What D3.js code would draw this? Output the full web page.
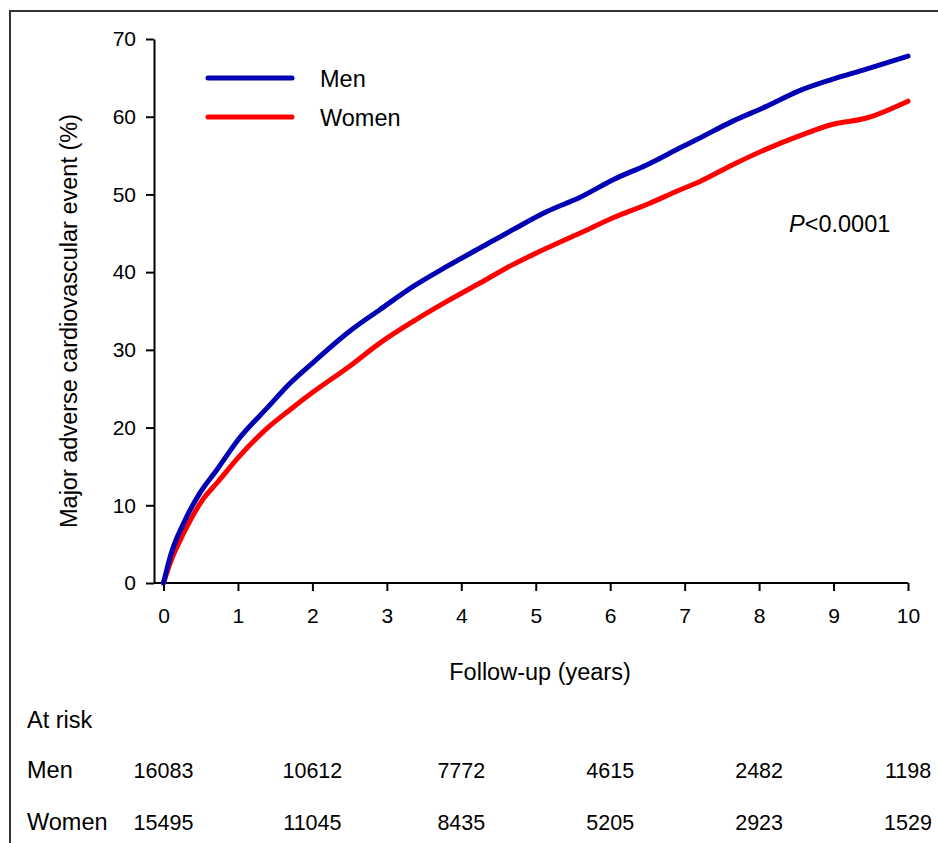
<!DOCTYPE html>
<html>
<head>
<meta charset="utf-8">
<script src="https://cdn.jsdelivr.net/npm/d3@7"></script>
<style>
  body { margin: 0; background: #fff; }
  svg { display: block; font-family: Arial, "Liberation Sans", sans-serif; }
</style>
</head>
<body>
<svg id="chart"></svg>
<script>
// cumulative incidence (years, %)
var menTime   = [0, 0.09, 0.27, 0.49, 0.72, 1.0, 1.39, 1.70, 2.0, 2.5, 2.91, 3.36, 3.80, 4.25, 4.70, 5.15, 5.59, 6.04, 6.49, 6.94, 7.19, 7.64, 8.09, 8.53, 8.98, 9.43, 10.0];
var menRisk   = [0, 3.4, 7.7, 11.6, 14.6, 18.4, 22.5, 25.7, 28.3, 32.4, 35.2, 38.2, 40.7, 43.1, 45.5, 47.8, 49.6, 51.9, 53.8, 56.0, 57.2, 59.4, 61.3, 63.3, 64.8, 66.1, 67.8];
var womenTime = [0, 0.09, 0.27, 0.54, 0.72, 1.0, 1.39, 1.70, 2.0, 2.5, 2.91, 3.36, 3.80, 4.25, 4.70, 5.15, 5.59, 6.04, 6.49, 6.94, 7.19, 7.64, 8.09, 8.53, 8.98, 9.43, 10.0];
var womenRisk = [0, 2.6, 6.4, 10.9, 12.9, 16.1, 19.9, 22.3, 24.5, 27.9, 30.9, 33.7, 36.2, 38.6, 41.0, 43.1, 45.0, 47.0, 48.7, 50.6, 51.6, 53.8, 55.8, 57.5, 59.0, 59.8, 62.0];

var xTicks = [0, 1, 2, 3, 4, 5, 6, 7, 8, 9, 10];
var yTicks = [0, 10, 20, 30, 40, 50, 60, 70];

var atRiskYears = [0, 2, 4, 6, 8, 10];
var menAtRisk   = [16083, 10612, 7772, 4615, 2482, 1198];
var womenAtRisk = [15495, 11045, 8435, 5205, 2923, 1529];

var width = 938, height = 843;
var blue = "#0000b4", red = "#ff0000";
var font = "Arial, 'Liberation Sans', sans-serif";

var svg = d3.select("#chart").attr("width", width).attr("height", height);

svg.append("rect").attr("x", 10).attr("y", 11).attr("width", 940).attr("height", 850)
  .attr("fill", "none").attr("stroke", "#333").attr("stroke-width", 2);

var x = d3.scaleLinear().domain([0, 10]).range([163.5, 908]);
var y = d3.scaleLinear().domain([0, 70]).range([583, 39]);
var axisX = 154;

// y axis
var gy = svg.append("g").attr("transform", "translate(" + axisX + ",0)")
  .call(d3.axisLeft(y).tickValues(yTicks).tickSize(8).tickSizeOuter(0).tickPadding(10));
gy.select(".domain").attr("stroke-width", 2);
gy.selectAll(".tick line").attr("stroke-width", 2);
gy.selectAll(".tick text").attr("font-size", 21).attr("font-family", font).attr("fill", "#000");

// x axis
var gx = svg.append("g").attr("transform", "translate(0," + y(0) + ")")
  .call(d3.axisBottom(x).tickValues(xTicks).tickSize(8).tickSizeOuter(0).tickPadding(17));
gx.select(".domain").remove();
gx.selectAll(".tick line").attr("stroke-width", 2);
gx.selectAll(".tick text").attr("font-size", 21).attr("font-family", font).attr("fill", "#000");
svg.append("line").attr("x1", axisX).attr("x2", x(10)).attr("y1", y(0)).attr("y2", y(0))
  .attr("stroke", "#000").attr("stroke-width", 2);

// axis titles
svg.append("text").attr("transform", "translate(77,321) rotate(-90)")
  .attr("text-anchor", "middle").attr("font-size", 23.5).text("Major adverse cardiovascular event (%)");
svg.append("text").attr("x", 540).attr("y", 680).attr("text-anchor", "middle")
  .attr("font-size", 23.5).text("Follow-up (years)");

// curves
var line = d3.line().x(function(d) { return x(d[0]); }).y(function(d) { return y(d[1]); })
  .curve(d3.curveMonotoneX);
var menData = d3.zip(menTime, menRisk);
var womenData = d3.zip(womenTime, womenRisk);
svg.append("path").datum(womenData).attr("d", line).attr("fill", "none")
  .attr("stroke", red).attr("stroke-width", 5).attr("stroke-linecap", "round").attr("stroke-linejoin", "round");
svg.append("path").datum(menData).attr("d", line).attr("fill", "none")
  .attr("stroke", blue).attr("stroke-width", 5).attr("stroke-linecap", "round").attr("stroke-linejoin", "round");

// legend
var legend = [{ name: "Men", color: blue, y: 78 }, { name: "Women", color: red, y: 117 }];
legend.forEach(function(l) {
  svg.append("line").attr("x1", 208).attr("x2", 292).attr("y1", l.y).attr("y2", l.y)
    .attr("stroke", l.color).attr("stroke-width", 5).attr("stroke-linecap", "round");
  svg.append("text").attr("x", 320).attr("y", l.y + 9).attr("font-size", 23.5).text(l.name);
});

// p value
var p = svg.append("text").attr("x", 789).attr("y", 232).attr("font-size", 23.5);
p.append("tspan").attr("font-style", "italic").text("P");
p.append("tspan").text("<0.0001");

// numbers at risk
svg.append("text").attr("x", 27).attr("y", 728).attr("font-size", 23.5).text("At risk");
svg.append("text").attr("x", 27).attr("y", 778).attr("font-size", 23.5).text("Men");
svg.append("text").attr("x", 27).attr("y", 830).attr("font-size", 23.5).text("Women");
atRiskYears.forEach(function(t, i) {
  svg.append("text").attr("x", x(t)).attr("y", 778).attr("text-anchor", "middle")
    .attr("font-size", 21.5).text(menAtRisk[i]);
  svg.append("text").attr("x", x(t)).attr("y", 830).attr("text-anchor", "middle")
    .attr("font-size", 21.5).text(womenAtRisk[i]);
});
</script>
</body>
</html>
